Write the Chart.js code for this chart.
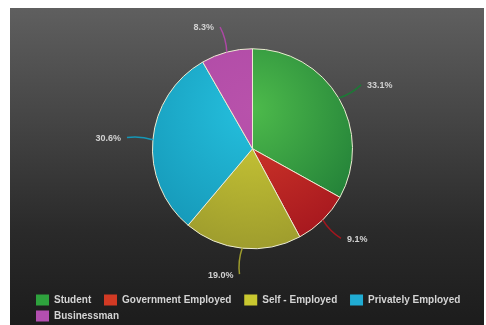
<!DOCTYPE html>
<html>
<head>
<meta charset="utf-8">
<script src="https://cdn.jsdelivr.net/npm/chart.js@4/dist/chart.umd.min.js"></script>
<style>
  html, body { margin: 0; padding: 0; background: #fff; width: 486px; height: 325px; overflow: hidden; }
  #panel { position: absolute; left: 10px; top: 8px; width: 474px; height: 317px;
    background: linear-gradient(to bottom, #5f5f5f 0%, #454545 35%, #2a2a2a 70%, #1c1c1c 100%); }
  canvas { display: block; }
</style>
</head>
<body>
<div id="panel"><canvas id="pie" width="474" height="317"></canvas></div>
<script>
/* Occupation split pie, dark panel, percent labels on leader lines. */
const categories = ["Student", "Government Employed", "Self - Employed", "Privately Employed", "Businessman"];
const shares = [33.1, 9.1, 19.0, 30.6, 8.3];
const lightColors = ["#4dba4b", "#d63b2b", "#cfcd36", "#25c0de", "#b852ab"];
const darkColors = ["#1d7936", "#a4161e", "#9d9b2d", "#1597b7", "#ad48a5"];
const legendColors = ["#2ea23d", "#d23a24", "#c9c830", "#20acd3", "#b34fb0"];
const PIE_R = 100;

const pctLabels = {
  id: "pctLabels",
  afterDatasetsDraw(chart) {
    const { ctx } = chart;
    const meta = chart.getDatasetMeta(0);
    ctx.save();
    ctx.font = "bold 9px 'Liberation Sans', Arial, sans-serif";
    ctx.textBaseline = "middle";
    meta.data.forEach((arc, i) => {
      const p = arc.getProps(["x", "y", "startAngle", "endAngle", "outerRadius"], true);
      const mid = (p.startAngle + p.endAngle) / 2;
      const c = Math.cos(mid), s = Math.sin(mid);
      const x0 = p.x + c * p.outerRadius, y0 = p.y + s * p.outerRadius;
      const x1 = p.x + c * (p.outerRadius + 26), y1 = p.y + s * (p.outerRadius + 26);
      // slight bend like the original leader lines
      const cxp = (x0 + x1) / 2 - s * 3, cyp = (y0 + y1) / 2 + c * 3;
      ctx.strokeStyle = darkColors[i];
      ctx.lineWidth = 1.5;
      ctx.beginPath();
      ctx.moveTo(x0, y0);
      ctx.quadraticCurveTo(cxp, cyp, x1, y1);
      ctx.stroke();
      const right = x1 >= p.x;
      ctx.textAlign = right ? "left" : "right";
      ctx.fillStyle = "#d2d2d2";
      ctx.fillText(shares[i].toFixed(1) + "%", x1 + (right ? 6 : -6), y1 + 1);
    });
    ctx.restore();
  }
};

function sliceFill(context) {
  const chart = context.chart;
  const area = chart.chartArea;
  const i = context.dataIndex;
  if (!area) return lightColors[i];
  const cx = (area.left + area.right) / 2, cy = (area.top + area.bottom) / 2;
  const g = chart.ctx.createRadialGradient(cx, cy - PIE_R * 0.4, 0, cx, cy - PIE_R * 0.4, PIE_R * 1.45);
  g.addColorStop(0, lightColors[i]);
  g.addColorStop(1, darkColors[i]);
  return g;
}

new Chart(document.getElementById("pie"), {
  type: "pie",
  data: {
    labels: categories,
    datasets: [{ data: shares, backgroundColor: sliceFill, borderColor: "#ecebd2", borderWidth: 1, radius: PIE_R }]
  },
  options: {
    responsive: false,
    animation: false,
    events: [],
    layout: { padding: { left: 21, right: 10, top: -1.5, bottom: -6.5 } },
    plugins: {
      tooltip: { enabled: false },
      legend: {
        position: "bottom",
        align: "start",
        labels: {
          color: "#d4d4d4",
          font: { family: "'Liberation Sans', Arial, sans-serif", size: 10, weight: "bold" },
          boxWidth: 13,
          boxHeight: 11,
          padding: 5,
          // extra trailing space widens the gap between items without widening rows
          generateLabels: (chart) => categories.map((c, i) => ({
            text: c + "\u2002 ",
            fillStyle: legendColors[i],
            strokeStyle: "rgba(0,0,0,0)",
            lineWidth: 0,
            fontColor: "#d4d4d4",
            hidden: false,
            index: i
          }))
        }
      }
    }
  },
  plugins: [pctLabels]
});
</script>
</body>
</html>
